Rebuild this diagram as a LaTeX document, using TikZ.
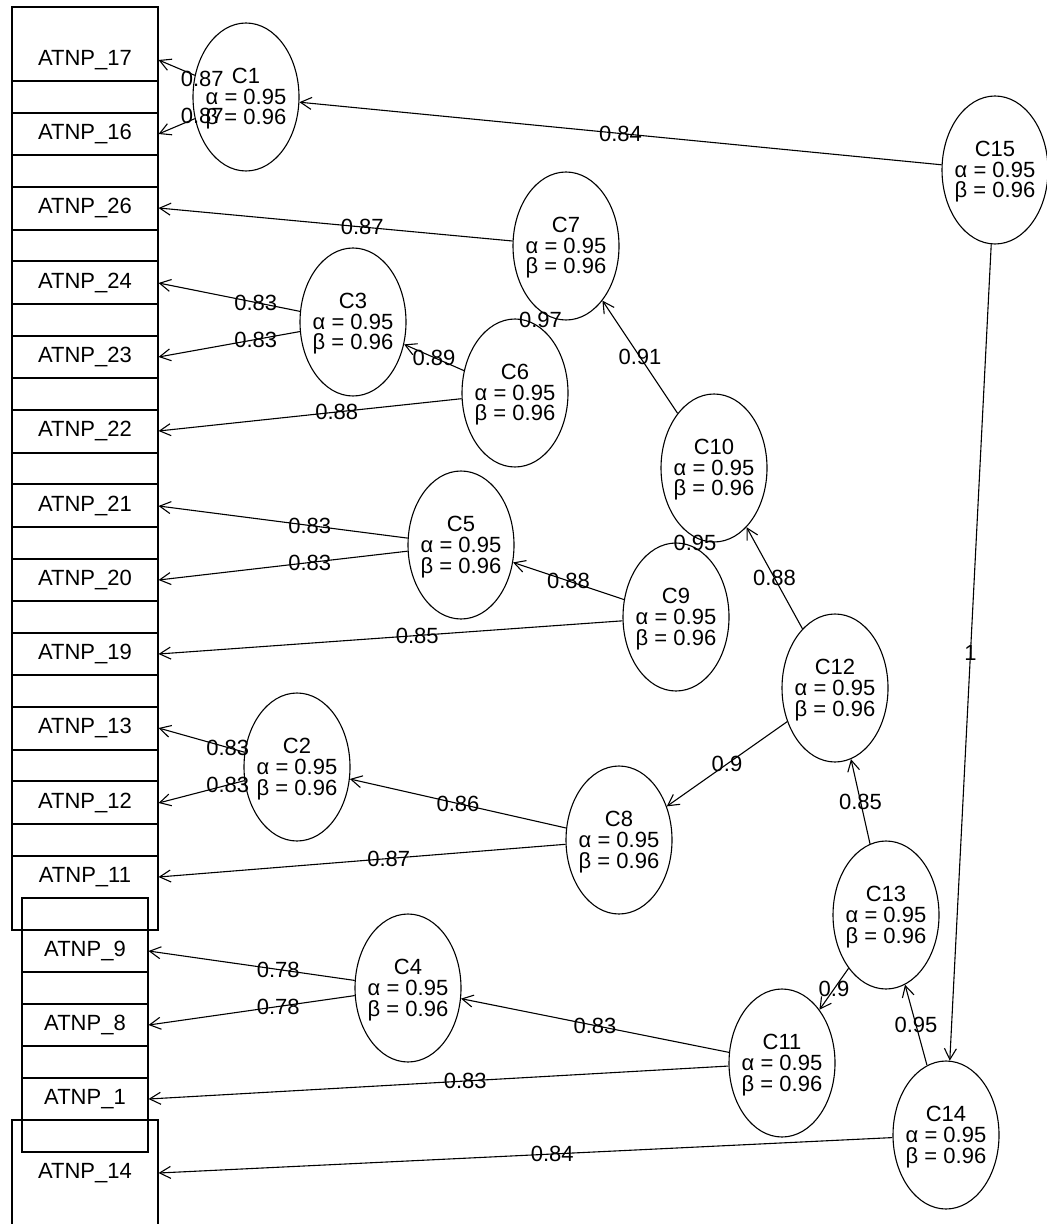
\documentclass[tikz,border=0pt]{standalone}
\usepackage{fontspec}
\setmainfont{Liberation Sans}
\usetikzlibrary{shapes.geometric,arrows.meta,calc}

\begin{document}
\begin{tikzpicture}[x=0.5pt,y=-0.5pt,
  every node/.style={font=\fontsize{11}{10.3}\selectfont},
  mbox/.style={draw, line width=0.55pt, rectangle, minimum width=73pt, minimum height=53pt, inner sep=0pt},
  nbox/.style={mbox, minimum width=63pt},
  latent/.style={draw, line width=0.55pt, ellipse, minimum width=53pt, minimum height=74pt, inner sep=0pt},
  ltext/.style={align=center, inner sep=0pt},
  link/.style={draw, line width=0.55pt, -{Straight Barb[length=5.5pt,width=6pt]}},
  wt/.style={inner sep=0pt}
]
\useasboundingbox (0,0) rectangle (1047,1224);

% observed variables
\node[mbox] (A17) at (85,60)   {ATNP\_17};
\node[mbox] (A16) at (85,134)  {ATNP\_16};
\node[mbox] (A26) at (85,208)  {ATNP\_26};
\node[mbox] (A24) at (85,283)  {ATNP\_24};
\node[mbox] (A23) at (85,357)  {ATNP\_23};
\node[mbox] (A22) at (85,431)  {ATNP\_22};
\node[mbox] (A21) at (85,506)  {ATNP\_21};
\node[mbox] (A20) at (85,580)  {ATNP\_20};
\node[mbox] (A19) at (85,654)  {ATNP\_19};
\node[mbox] (A13) at (85,728)  {ATNP\_13};
\node[mbox] (A12) at (85,803)  {ATNP\_12};
\node[mbox] (A11) at (85,877)  {ATNP\_11};
\node[nbox] (A9)  at (85,951)  {ATNP\_9};
\node[nbox] (A8)  at (85,1025) {ATNP\_8};
\node[nbox] (A1)  at (85,1099) {ATNP\_1};
\node[mbox] (A14) at (85,1173) {ATNP\_14};

% clusters
\foreach \n/\x/\y in {C1/246/97, C15/995/170, C7/566/246, C3/353/322,
    C6/515/393, C10/714/468, C5/461/545, C9/676/617, C12/835/688,
    C2/297/767, C8/619/840, C13/886/915, C4/408/988, C11/782/1063,
    C14/946/1135} {
  \node[latent] (\n) at (\x,\y) {};
  \node[ltext] (\n t) at (\x,\y+2) {\n\\α = 0.95\\β = 0.96};
}

% loadings and cluster links
\draw[link] (C1) -- (A17.east);
\draw[link] (C1) -- (A16.east);
\draw[link] (C15) -- (C1);
\draw[link] (C7) -- (A26.east);
\draw[link] (C3) -- (A24.east);
\draw[link] (C3) -- (A23.east);
\draw[link] (C6) -- (C3);
\draw[link] (C6) -- (A22.east);
\draw[link] (C10) -- (C7);
\draw[link] (C9) -- (C5);
\draw[link] (C9) -- (A19.east);
\draw[link] (C5) -- (A21.east);
\draw[link] (C5) -- (A20.east);
\draw[link] (C12) -- (C10);
\draw[link] (C12) -- (C8);
\draw[link] (C8) -- (C2);
\draw[link] (C8) -- (A11.east);
\draw[link] (C2) -- (A13.east);
\draw[link] (C2) -- (A12.east);
\draw[link] (C13) -- (C12);
\draw[link] (C13) -- (C11);
\draw[link] (C11) -- (C4);
\draw[link] (C11) -- (A1.east);
\draw[link] (C4) -- (A9.east);
\draw[link] (C4) -- (A8.east);
\draw[link] (C14) -- (C13);
\draw[link] (C14) -- (A14.east);
\draw[link] (C15) -- (C14);

% weights
\node[wt] (w1)  at ($(C1)!0.5!(A17.east)$) {0.87};
\node[wt] (w2)  at ($(C1)!0.5!(A16.east)$) {0.87};
\node[wt] (w3)  at ($(C15)!0.5!(C1)$) {0.84};
\node[wt] (w4)  at ($(C7)!0.5!(A26.east)$) {0.87};
\node[wt] (w5)  at ($(C3)!0.5!(A24.east)$) {0.83};
\node[wt] (w6)  at ($(C3)!0.5!(A23.east)$) {0.83};
\node[wt] (w7)  at ($(C6)!0.5!(C3)$) {0.89};
\node[wt] (w8)  at ($(C6)!0.5!(A22.east)$) {0.88};
\node[wt] (w9)  at ($(C7)!0.5!(C6)$) {0.97};
\node[wt] (w10) at ($(C10)!0.5!(C7)$) {0.91};
\node[wt] (w11) at ($(C10)!0.5!(C9)$) {0.95};
\node[wt] (w12) at ($(C9)!0.5!(C5)$) {0.88};
\node[wt] (w13) at ($(C9)!0.5!(A19.east)$) {0.85};
\node[wt] (w14) at ($(C5)!0.5!(A21.east)$) {0.83};
\node[wt] (w15) at ($(C5)!0.5!(A20.east)$) {0.83};
\node[wt] (w16) at ($(C12)!0.5!(C10)$) {0.88};
\node[wt] (w17) at ($(C12)!0.5!(C8)$) {0.9};
\node[wt] (w18) at ($(C8)!0.5!(C2)$) {0.86};
\node[wt] (w19) at ($(C8)!0.5!(A11.east)$) {0.87};
\node[wt] (w20) at ($(C2)!0.5!(A13.east)$) {0.83};
\node[wt] (w21) at ($(C2)!0.5!(A12.east)$) {0.83};
\node[wt] (w22) at ($(C13)!0.5!(C12)$) {0.85};
\node[wt] (w23) at ($(C13)!0.5!(C11)$) {0.9};
\node[wt] (w24) at ($(C11)!0.5!(C4)$) {0.83};
\node[wt] (w25) at ($(C11)!0.5!(A1.east)$) {0.83};
\node[wt] (w26) at ($(C4)!0.5!(A9.east)$) {0.78};
\node[wt] (w27) at ($(C4)!0.5!(A8.east)$) {0.78};
\node[wt] (w28) at ($(C14)!0.5!(C13)$) {0.95};
\node[wt] (w29) at ($(C14)!0.5!(A14.east)$) {0.84};
\node[wt] (w30) at ($(C15)!0.5!(C14)$) {1};
\end{tikzpicture}
\end{document}
